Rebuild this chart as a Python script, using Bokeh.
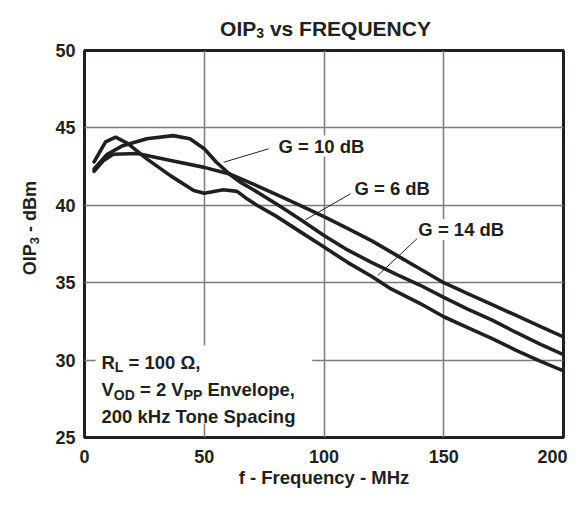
from math import pi
from bokeh.plotting import figure
from bokeh.layouts import column, row
from bokeh.models import Label, BoxAnnotation, Range1d, FixedTicker
from bokeh.embed import file_html
from bokeh.resources import INLINE

# ---------------- data ----------------
# curve peaking near 40 MHz (leader "G = 10 dB"), middle at 200 MHz
freq_g10 = [4, 9.5, 16, 26, 37, 44, 50, 55, 61, 65, 70, 81, 90, 100, 110, 120, 130, 140, 150, 160, 170, 180, 190, 200]
oip3_g10 = [42.35, 43.3, 43.85, 44.3, 44.5, 44.3, 43.65, 42.8, 41.95, 41.5, 41.05, 40.0, 39.1, 38.05, 37.1, 36.3,
            35.55, 34.85, 34.05, 33.3, 32.6, 31.8, 31.05, 30.35]
# flat curve, top at 200 MHz
freq_g6 = [4, 8, 12, 22, 36, 50, 61, 70, 80, 90, 100, 110, 120, 130, 140, 150, 160, 170, 180, 190, 200]
oip3_g6 = [42.2, 42.9, 43.3, 43.35, 42.9, 42.45, 42.0, 41.4, 40.7, 40.0, 39.27, 38.5, 37.7, 36.8, 35.9, 35.0,
           34.3, 33.6, 32.9, 32.2, 31.5]
# early peak then dip, lowest at 200 MHz
freq_g14 = [4, 8.8, 13, 18, 26, 36, 45.6, 50, 58, 63.7, 68, 72, 80, 90, 100, 110, 120, 128, 140, 150, 160, 170,
            180, 190, 200]
oip3_g14 = [42.8, 44.1, 44.4, 44.0, 43.0, 41.9, 40.95, 40.78, 41.0, 40.9, 40.4, 40.0, 39.3, 38.3, 37.3, 36.3,
            35.4, 34.6, 33.67, 32.8, 32.1, 31.4, 30.65, 29.95, 29.3]

x_ticks = [0, 50, 100, 150, 200]
y_ticks = [25, 30, 35, 40, 45, 50]

curve_labels = ["G = 10 dB", "G = 6 dB", "G = 14 dB"]
label_x = [81, 112.7, 139.4]
label_y = [43.83, 41.1, 38.44]
leader_x0 = [58.1, 92.2, 122.5]
leader_y0 = [42.78, 39.06, 35.47]
leader_x1 = [76.9, 111.0, 138.8]
leader_y1 = [43.65, 40.74, 37.84]

FONT = "Liberation Sans"
INK = "#231f20"

# Arial/Liberation bold advance widths (per em)
W = {' ': .278, ',': .278, '-': .333, '.': .278, '=': .584, 'Ω': .768}
for ch in '0123456789':
    W[ch] = .556
W.update(dict(A=.722, B=.722, C=.722, D=.722, E=.667, F=.611, G=.778, H=.722, I=.278, K=.722, L=.611, M=.833,
              N=.722, O=.778, P=.667, Q=.778, R=.722, S=.667, T=.611, U=.722, V=.667, Y=.667, Z=.611,
              a=.556, b=.611, c=.556, d=.611, e=.556, f=.333, g=.611, h=.611, i=.278, k=.556, l=.278, m=.889,
              n=.611, o=.611, p=.611, q=.611, r=.389, s=.556, t=.333, u=.611, v=.556, y=.556, z=.5))


def tw(s, size):
    return sum(W.get(c, .6) for c in s) * size


def rich(fig, x, y, pieces, center=False, vertical=False):
    """pieces: list of (text, size, drop) ; drop = subscript shift in px"""
    total = sum(tw(t, s) for t, s, _ in pieces)
    pos = -total / 2 if center else 0
    for t, s, d in pieces:
        lead = len(t) - len(t.lstrip(' '))
        shown = t.strip(' ')
        start = pos + tw(' ' * lead, s)
        common = dict(x=x, y=y, text=shown, text_font=FONT, text_font_style="bold", text_font_size=f"{s}px",
                      text_baseline="alphabetic", text_align="left", text_color=INK)
        if vertical:
            lab = Label(x_offset=d, y_offset=start, angle=pi / 2, **common)
        else:
            lab = Label(x_offset=start, y_offset=-d, **common)
        fig.add_layout(lab)
        pos += tw(t, s)


def blank(w, h):
    f = figure(width=w, height=h, output_backend="svg", toolbar_location=None,
               x_range=Range1d(0, w), y_range=Range1d(0, h),
               x_axis_location=None, y_axis_location=None, min_border=0)
    f.outline_line_color = None
    f.grid.visible = False
    f.background_fill_color = "white"
    f.border_fill_color = "white"
    return f


# ---------------- title strip ----------------
TH = 40
title_fig = blank(567, TH)
rich(title_fig, 325, TH - 27.5, [("OIP", 21, 0), ("3", 14, 4.5), (" vs FREQUENCY", 21, 0)], center=True)

# ---------------- main plot ----------------
MH = 452
p = figure(width=523, height=MH, output_backend="svg", toolbar_location=None,
           x_range=Range1d(0, 200), y_range=Range1d(25, 50),
           min_border_left=40, min_border_right=4, min_border_top=10, min_border_bottom=55)
p.outline_line_color = INK
p.outline_line_width = 3
p.background_fill_color = "white"
p.border_fill_color = "white"

for ax in (p.xaxis[0], p.yaxis[0]):
    ax.axis_line_color = None
    ax.major_tick_line_color = None
    ax.minor_tick_line_color = None
    ax.major_tick_out = 0
    ax.major_tick_in = 0
    ax.minor_tick_out = 0
    ax.minor_tick_in = 0
    ax.major_label_text_font = FONT
    ax.major_label_text_font_style = "bold"
    ax.major_label_text_font_size = "18px"
    ax.major_label_text_color = INK
p.xaxis.ticker = FixedTicker(ticks=x_ticks)
p.yaxis.ticker = FixedTicker(ticks=y_ticks)
p.xaxis.major_label_standoff = 12
p.yaxis.major_label_standoff = 9
p.xaxis.axis_label = "f - Frequency - MHz"
p.xaxis.axis_label_text_font = FONT
p.xaxis.axis_label_text_font_style = "bold"
p.xaxis.axis_label_text_font_size = "18.5px"
p.xaxis.axis_label_text_color = INK
p.xaxis.axis_label_standoff = 1

p.grid.grid_line_color = "#7a7a7a"
p.grid.grid_line_width = 1.5
p.xgrid.ticker = FixedTicker(ticks=x_ticks)
p.ygrid.ticker = FixedTicker(ticks=y_ticks)

# white box behind the condition text
p.add_layout(BoxAnnotation(left=4.6, right=95.1, bottom=25.9, top=30.94, fill_color="white", fill_alpha=1,
                           line_color=None, level="underlay"))

for fx, fy in ((freq_g6, oip3_g6), (freq_g10, oip3_g10), (freq_g14, oip3_g14)):
    p.line(fx, fy, line_color=INK, line_width=3.6, line_join="round", line_cap="round")

p.segment(x0=leader_x0, y0=leader_y0, x1=leader_x1, y1=leader_y1, line_color=INK, line_width=1)

for t, lx, ly in zip(curve_labels, label_x, label_y):
    p.add_layout(Label(x=lx, y=ly, text=t, text_font=FONT, text_font_style="bold", text_font_size="18.5px",
                       text_baseline="middle", text_align="left", text_color=INK,
                       background_fill_color="white", background_fill_alpha=1))

# condition text
rich(p, 7.1, 29.85, [("R", 18.5, 0), ("L", 14, 5), (" = 100 Ω,", 18.5, 0)])
rich(p, 7.1, 28.1, [("V", 18.5, 0), ("OD", 14, 5), (" = 2 V", 18.5, 0), ("PP", 14, 5), (" Envelope,", 18.5, 0)])
rich(p, 7.1, 26.38, [("200 kHz Tone Spacing", 18.5, 0)])

# ---------------- y-axis title strip ----------------
YW = 44
ylab_fig = blank(YW, MH)
rich(ylab_fig, 29, MH - (247.5 - TH), [("OIP", 18, 0), ("3", 13, 5), (" - dBm", 18, 0)], center=True, vertical=True)

layout = column(title_fig, row(ylab_fig, p, spacing=0), spacing=0)

open("out.html", "w").write(file_html(layout, INLINE))
